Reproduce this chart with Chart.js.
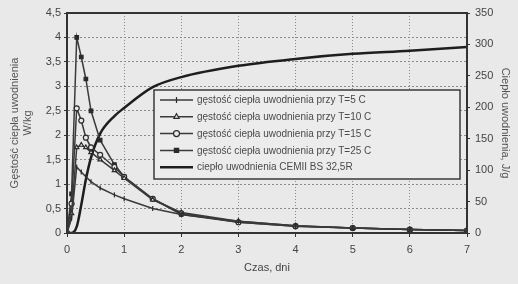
<!DOCTYPE html>
<html>
<head>
<meta charset="utf-8">
<script src="https://cdn.jsdelivr.net/npm/chart.js@4"></script>
<style>
  html, body { margin: 0; padding: 0; background: #e9e9e9; }
  #wrap { width: 518px; height: 284px; }
</style>
</head>
<body>
<div id="wrap"><canvas id="c" width="518" height="284"></canvas></div>
<script>
// czas, dni
const days = [0, 0.08, 0.17, 0.25, 0.33, 0.42, 0.58, 0.83, 1, 1.5, 2, 3, 4, 5, 6, 7];
// gęstość ciepła uwodnienia, W/kg
const densT5  = [0, 0.3, 1.35, 1.25, 1.15, 1.05, 0.92, 0.78, 0.7, 0.5, 0.38, 0.24, 0.15, 0.1, 0.07, 0.05];
const densT10 = [0, 0.4, 1.75, 1.8, 1.75, 1.65, 1.5, 1.28, 1.12, 0.68, 0.42, 0.24, 0.15, 0.1, 0.07, 0.05];
const densT15 = [0, 0.6, 2.55, 2.3, 1.95, 1.75, 1.6, 1.35, 1.15, 0.7, 0.4, 0.22, 0.14, 0.1, 0.07, 0.05];
const densT25 = [0, 0.8, 4.0, 3.6, 3.15, 2.5, 1.9, 1.4, 1.15, 0.7, 0.38, 0.22, 0.14, 0.1, 0.07, 0.05];
// ciepło uwodnienia, J/g
const heat = [0, 0, 10, 45, 85, 120, 158, 186, 199, 232, 248, 266, 277, 285, 290, 296];

const legendLabels = [
    'gęstość ciepła uwodnienia przy T=5 C',
    'gęstość ciepła uwodnienia przy T=10 C',
    'gęstość ciepła uwodnienia przy T=15 C',
    'gęstość ciepła uwodnienia przy T=25 C',
    'ciepło uwodnienia CEMII BS 32,5R'
];

const BG = '#e9e9e9';
const toXY = arr => arr.map((v, i) => ({ x: days[i], y: v }));
const fmt = v => String(v).replace('.', ',');
const tickFont = { family: 'Liberation Sans, Arial, sans-serif', size: 11 };

const densStyle = { borderColor: '#3a3a3a', borderWidth: 1.5, pointRadius: 2.5, pointBorderWidth: 1.2,
    pointBorderColor: '#2a2a2a', tension: 0, yAxisID: 'y' };

const bgPlugin = {
    id: 'bg',
    beforeDraw(chart) {
        const ctx = chart.ctx;
        ctx.save();
        ctx.fillStyle = BG;
        ctx.fillRect(0, 0, chart.width, chart.height);
        ctx.restore();
    }
};

const framePlugin = {
    id: 'frame',
    afterDraw(chart) {
        const { ctx, chartArea: a } = chart;
        ctx.save();
        ctx.strokeStyle = '#333';
        ctx.lineWidth = 2;
        ctx.strokeRect(a.left, a.top, a.right - a.left, a.bottom - a.top);

        // legend box
        const bx = 154, by = 90, bw = 306, bh = 89;
        ctx.fillStyle = '#ececec';
        ctx.fillRect(bx, by, bw, bh);
        ctx.lineWidth = 1.5;
        ctx.strokeStyle = '#3a3a3a';
        ctx.strokeRect(bx, by, bw, bh);
        ctx.font = '10px "Liberation Sans", Arial, sans-serif';
        ctx.textBaseline = 'middle';
        chart.data.datasets.forEach((ds, i) => {
            const y = by + 10 + i * 16.8;
            ctx.strokeStyle = ds.borderColor;
            ctx.lineWidth = ds.borderWidth;
            ctx.beginPath();
            ctx.moveTo(160, y);
            ctx.lineTo(193, y);
            ctx.stroke();
            if (ds.pointRadius) {
                ctx.fillStyle = ds.pointBackgroundColor;
                ctx.strokeStyle = ds.pointBorderColor;
                ctx.lineWidth = ds.pointBorderWidth;
                Chart.helpers.drawPoint(ctx, { pointStyle: ds.pointStyle, radius: 3, rotation: ds.pointRotation || 0, borderWidth: 1.2 }, 176.5, y);
            }
            ctx.fillStyle = '#4a4a4a';
            ctx.fillText(legendLabels[i], 197, y + 0.5);
        });
        ctx.restore();
    }
};

new Chart(document.getElementById('c'), {
    type: 'line',
    data: {
        datasets: [
            { ...densStyle, data: toXY(densT5), pointStyle: 'line', pointRotation: 90, pointBackgroundColor: '#2a2a2a' },
            { ...densStyle, data: toXY(densT10), pointStyle: 'triangle', pointBackgroundColor: BG },
            { ...densStyle, data: toXY(densT15), pointStyle: 'circle', pointBackgroundColor: BG },
            { ...densStyle, data: toXY(densT25), pointStyle: 'rect', pointBackgroundColor: '#2a2a2a' },
            { data: toXY(heat), borderColor: '#1e1e1e', borderWidth: 2.5, pointRadius: 0,
              cubicInterpolationMode: 'monotone', yAxisID: 'y2' }
        ]
    },
    options: {
        responsive: false,
        animation: false,
        layout: { padding: { top: 13, bottom: 0, left: 0, right: 0 } },
        plugins: { legend: { display: false }, tooltip: { enabled: false } },
        scales: {
            x: {
                type: 'linear', min: 0, max: 7,
                ticks: { stepSize: 1, color: '#444', font: tickFont, padding: 6 },
                grid: { color: '#8a8a8a', lineWidth: 1, tickLength: 4, tickColor: '#333' },
                border: { color: '#333', width: 2, dash: [1, 2] },
                title: { display: true, text: 'Czas, dni', color: '#444',
                         font: { family: 'Liberation Sans, Arial, sans-serif', size: 11 }, padding: { top: 0, bottom: 9 } },
                afterFit(s) { s.height = 51; }
            },
            y: {
                position: 'left', min: 0, max: 4.5,
                ticks: { stepSize: 0.5, color: '#444', font: tickFont, padding: 3, callback: v => fmt(v) },
                grid: { color: '#8a8a8a', lineWidth: 1, tickLength: 3, tickColor: '#333' },
                border: { color: '#333', width: 2, dash: [2, 2] },
                title: { display: true, text: ['Gęstość ciepła uwodnienia', 'W/kg'], color: '#555',
                         font: { family: 'Liberation Sans, Arial, sans-serif', size: 11 }, padding: { top: 8, bottom: 0 } },
                afterFit(s) { s.width = 67; }
            },
            y2: {
                position: 'right', min: 0, max: 350,
                ticks: { stepSize: 50, color: '#444', font: tickFont, padding: 5 },
                grid: { drawOnChartArea: false, tickLength: 3, tickColor: '#333' },
                border: { color: '#333', width: 2 },
                title: { display: true, text: 'Ciepło uwodnienia, J/g', color: '#555',
                         font: { family: 'Liberation Sans, Arial, sans-serif', size: 11 }, padding: { top: 6, bottom: 0 } },
                afterFit(s) { s.width = 51; }
            }
        }
    },
    plugins: [bgPlugin, framePlugin]
});
</script>
</body>
</html>
